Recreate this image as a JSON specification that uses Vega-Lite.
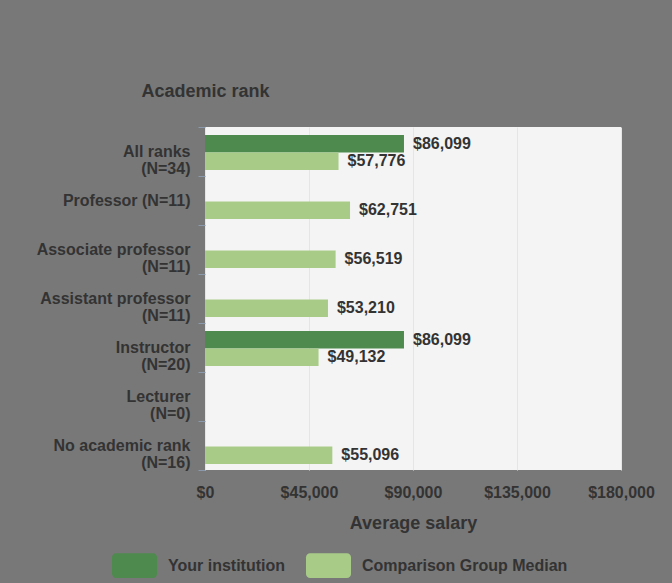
{
  "$schema": "https://vega.github.io/schema/vega-lite/v6.json",
  "width": 416,
  "height": 343,
  "autosize": {"type": "none"},
  "padding": {"left": 205, "top": 127, "right": 51, "bottom": 113},
  "background": "#787878",
  "config": {
    "view": {"fill": "#f4f4f4", "stroke": null},
    "font": "Liberation Sans"
  },
  "data": {
    "values": [
      {"rank": "All ranks|(N=34)", "group": "Your institution", "salary": 86099},
      {"rank": "All ranks|(N=34)", "group": "Comparison Group Median", "salary": 57776},
      {"rank": "Professor (N=11)", "group": "Comparison Group Median", "salary": 62751},
      {"rank": "Associate professor|(N=11)", "group": "Comparison Group Median", "salary": 56519},
      {"rank": "Assistant professor|(N=11)", "group": "Comparison Group Median", "salary": 53210},
      {"rank": "Instructor|(N=20)", "group": "Your institution", "salary": 86099},
      {"rank": "Instructor|(N=20)", "group": "Comparison Group Median", "salary": 49132},
      {"rank": "No academic rank|(N=16)", "group": "Comparison Group Median", "salary": 55096}
    ]
  },
  "encoding": {
    "y": {
      "field": "rank",
      "type": "nominal",
      "sort": null,
      "scale": {
        "domain": ["All ranks|(N=34)", "Professor (N=11)", "Associate professor|(N=11)", "Assistant professor|(N=11)", "Instructor|(N=20)", "Lecturer|(N=0)", "No academic rank|(N=16)"],
        "paddingInner": 0,
        "paddingOuter": 0
      },
      "axis": {
        "title": "Academic rank",
        "titleAngle": 0,
        "titleX": 0,
        "titleY": -36,
        "titleAlign": "center",
        "titleBaseline": "middle",
        "titleFontSize": 18,
        "titleFontWeight": "bold",
        "titleColor": "#333333",
        "labelFontSize": 16,
        "labelFontWeight": "bold",
        "labelColor": "#333333",
        "labelExpr": "split(datum.label, '|')",
        "labelLineHeight": 17,
        "labelPadding": 8,
        "labelLimit": 300,
        "tickBand": "extent",
        "ticks": true,
        "tickSize": 7,
        "tickColor": "#8c99ad",
        "domain": false,
        "grid": false
      }
    },
    "yOffset": {
      "field": "group",
      "scale": {
        "domain": ["Your institution", "Comparison Group Median"],
        "paddingInner": 0,
        "paddingOuter": 0.4,
        "align": 0.57
      }
    },
    "x": {
      "field": "salary",
      "type": "quantitative",
      "scale": {"domain": [0, 180000]},
      "axis": {
        "title": "Average salary",
        "titleFontSize": 18,
        "titleFontWeight": "bold",
        "titleColor": "#333333",
        "labelFontSize": 16,
        "labelFontWeight": "bold",
        "labelColor": "#333333",
        "format": "$,.0f",
        "values": [0, 45000, 90000, 135000, 180000],
        "labelFlush": false,
        "grid": true,
        "gridColor": "#dfe6f0",
        "ticks": false,
        "domain": false,
        "labelPadding": 14,
        "titlePadding": 14
      }
    }
  },
  "layer": [
    {
      "mark": {"type": "bar"},
      "encoding": {
        "color": {
          "field": "group",
          "type": "nominal",
          "scale": {
            "domain": ["Your institution", "Comparison Group Median"],
            "range": ["#4e8a4e", "#a8cb87"]
          },
          "legend": {
            "orient": "none",
            "legendX": -93,
            "legendY": 416,
            "direction": "horizontal",
            "title": null,
            "symbolType": "M-0.82,-0.55 H0.82 A0.18,0.18 0 0 1 1,-0.37 V0.37 A0.18,0.18 0 0 1 0.82,0.55 H-0.82 A0.18,0.18 0 0 1 -1,0.37 V-0.37 A0.18,0.18 0 0 1 -0.82,-0.55 Z",
            "symbolSize": 2025,
            "symbolStrokeWidth": 0,
            "symbolOpacity": 1,
            "labelFontSize": 16,
            "labelFontWeight": "bold",
            "labelColor": "#333333",
            "labelOffset": 11,
            "columnPadding": 20,
            "labelLimit": 400
          }
        }
      }
    },
    {
      "mark": {
        "type": "text",
        "dx": 9,
        "align": "left",
        "baseline": "middle",
        "fontSize": 16,
        "fontWeight": "bold",
        "color": "#333333"
      },
      "encoding": {
        "text": {"field": "salary", "type": "quantitative", "format": "$,.0f"}
      }
    }
  ]
}
